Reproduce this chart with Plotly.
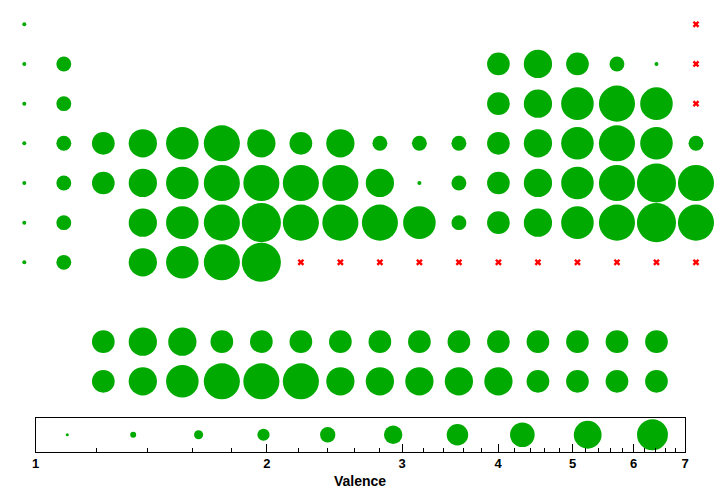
import math
import plotly.graph_objects as go

# ---- data: periodic table, valence per element (0 = no data, drawn as red x) ----
p1_sym = ["H", "He"]
p1_grp = [1, 18]
p1_val = [1, 0]

p2_sym = ["Li", "Be", "B", "C", "N", "O", "F", "Ne"]
p2_grp = [1, 2, 13, 14, 15, 16, 17, 18]
p2_val = [1, 2, 3, 4, 3, 2, 1, 0]

p3_sym = ["Na", "Mg", "Al", "Si", "P", "S", "Cl", "Ar"]
p3_grp = [1, 2, 13, 14, 15, 16, 17, 18]
p3_val = [1, 2, 3, 4, 5, 6, 5, 0]

p4_sym = ["K", "Ca", "Sc", "Ti", "V", "Cr", "Mn", "Fe", "Co", "Ni", "Cu", "Zn",
          "Ga", "Ge", "As", "Se", "Br", "Kr"]
p4_grp = list(range(1, 19))
p4_val = [1, 2, 3, 4, 5, 6, 4, 3, 4, 2, 2, 2, 3, 4, 5, 6, 5, 2]

p5_sym = ["Rb", "Sr", "Y", "Zr", "Nb", "Mo", "Tc", "Ru", "Rh", "Pd", "Ag", "Cd",
          "In", "Sn", "Sb", "Te", "I", "Xe"]
p5_grp = list(range(1, 19))
p5_val = [1, 2, 3, 4, 5, 6, 6, 6, 6, 4, 1, 2, 3, 4, 5, 6, 7, 6]

p6_sym = ["Cs", "Ba", "Hf", "Ta", "W", "Re", "Os", "Ir", "Pt", "Au", "Hg",
          "Tl", "Pb", "Bi", "Po", "At", "Rn"]
p6_grp = [1, 2] + list(range(4, 19))
p6_val = [1, 2, 4, 5, 6, 7, 6, 6, 6, 5, 2, 3, 4, 5, 6, 7, 6]

p7_sym = ["Fr", "Ra", "Rf", "Db", "Sg", "Bh", "Hs", "Mt", "Ds", "Rg", "Cn",
          "Nh", "Fl", "Mc", "Lv", "Ts", "Og"]
p7_grp = [1, 2] + list(range(4, 19))
p7_val = [1, 2, 4, 5, 6, 7, 0, 0, 0, 0, 0, 0, 0, 0, 0, 0, 0]

lan_sym = ["La", "Ce", "Pr", "Nd", "Pm", "Sm", "Eu", "Gd", "Tb", "Dy", "Ho",
           "Er", "Tm", "Yb", "Lu"]
lan_grp = list(range(3, 18))
lan_val = [3, 4, 4, 3, 3, 3, 3, 3, 3, 3, 3, 3, 3, 3, 3]

act_sym = ["Ac", "Th", "Pa", "U", "Np", "Pu", "Am", "Cm", "Bk", "Cf", "Es",
           "Fm", "Md", "No", "Lr"]
act_grp = list(range(3, 18))
act_val = [3, 4, 5, 6, 6, 6, 4, 4, 4, 4, 4, 3, 3, 3, 3]

# size-key values shown in the legend box
key_vals = [1.10, 1.34, 1.63, 1.98, 2.40, 2.92, 3.54, 4.30, 5.23, 6.35]
key_ticks = [1, 2, 3, 4, 5, 6, 7]

rows = [
    (1, p1_sym, p1_grp, p1_val), (2, p2_sym, p2_grp, p2_val),
    (3, p3_sym, p3_grp, p3_val), (4, p4_sym, p4_grp, p4_val),
    (5, p5_sym, p5_grp, p5_val), (6, p6_sym, p6_grp, p6_val),
    (7, p7_sym, p7_grp, p7_val), (9, lan_sym, lan_grp, lan_val),
    (10, act_sym, act_grp, act_val),
]

GREEN = "#00aa00"


def main_size(v):
    return max(4.0, 19.3 * math.log(v) + 1.5)


def key_size(v):
    return max(3.0, 16.0 * math.log(v) + 1.3)


gx, gy, gs, gt = [], [], [], []
rx, ry, rt = [], [], []
for row, syms, grps, vals in rows:
    for s, g, v in zip(syms, grps, vals):
        if v > 0:
            gx.append(g); gy.append(row); gs.append(main_size(v))
            gt.append(f"{s}: {v}")
        else:
            rx.append(g); ry.append(row); rt.append(f"{s}: n/a")

fig = go.Figure()
fig.add_trace(go.Scatter(
    x=gx, y=gy, mode="markers", text=gt, hoverinfo="text",
    marker=dict(size=gs, color=GREEN, opacity=1, symbol="circle", line=dict(width=0)),
    cliponaxis=False, showlegend=False))
fig.add_trace(go.Scatter(
    x=rx, y=ry, mode="markers", text=rt, hoverinfo="text",
    marker=dict(size=6, color="red", opacity=1, symbol="x", line=dict(width=0)),
    cliponaxis=False, showlegend=False))

# size key inside a log-scaled box
fig.add_trace(go.Scatter(
    x=key_vals, y=[0.5] * len(key_vals), mode="markers",
    xaxis="x2", yaxis="y2", hoverinfo="x",
    marker=dict(size=[key_size(v) for v in key_vals], color=GREEN, opacity=1,
                line=dict(width=0)),
    cliponaxis=False, showlegend=False))

minor_vals = []
for k in range(1, 7):
    for f in (0.2, 0.4, 0.6, 0.8):
        minor_vals.append(round(k + f, 2))

W, H = 720, 492
fig.update_layout(
    width=W, height=H, autosize=False,
    margin=dict(l=0, r=0, t=0, b=0, pad=0, autoexpand=False),
    paper_bgcolor="white", plot_bgcolor="rgba(0,0,0,0)",
    xaxis=dict(range=[0.385, 18.608], domain=[0, 1], visible=False, fixedrange=True,
               automargin=False),
    yaxis=dict(range=[12.79, 0.3874], domain=[0, 1], visible=False, fixedrange=True,
               automargin=False),
    xaxis2=dict(
        type="log", range=[0, math.log10(7)], domain=[35.5 / W, 685 / W],
        anchor="y2", showline=True, linecolor="black", linewidth=1, mirror=True,
        showgrid=False, zeroline=False, automargin=False,
        tickmode="array", tickvals=key_ticks,
        ticktext=[f"<b>{t}</b>" for t in key_ticks],
        ticks="inside", ticklen=8, tickwidth=1, tickcolor="black",
        tickfont=dict(family="Liberation Sans, Arial, sans-serif", size=13,
                      color="black"),
        minor=dict(tickmode="array", tickvals=minor_vals, ticks="inside",
                   ticklen=4, tickwidth=1, tickcolor="black", showgrid=False),
    ),
    yaxis2=dict(
        range=[0, 1], domain=[(H - 451.5) / H, (H - 418) / H], anchor="x2",
        showline=True, linecolor="black", linewidth=1, mirror=True, automargin=False,
        showticklabels=False, ticks="", showgrid=False, zeroline=False,
    ),
    annotations=[dict(
        text="<b>Valence</b>", x=0.5, xref="paper", y=(H - 480.5) / H, yref="paper",
        xanchor="center", yanchor="middle", showarrow=False,
        font=dict(family="Liberation Sans, Arial, sans-serif", size=14, color="black"),
    )],
)

fig.write_html("out.html")
